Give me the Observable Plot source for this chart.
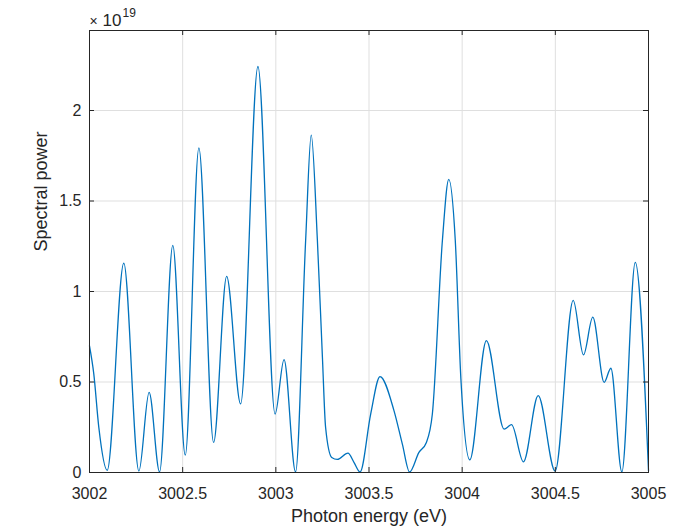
<!DOCTYPE html>
<html><head><meta charset="utf-8">
<script src="https://cdn.jsdelivr.net/npm/d3@7"></script>
<script src="https://cdn.jsdelivr.net/npm/@observablehq/plot@0.6"></script>
<style>
html,body{margin:0;padding:0;background:#fff;}
#chart{width:682px;height:527px;}
</style></head><body><div id="chart"></div>
<script>
// Photon energy (eV)
const energy = [
  3002.000, 3002.023, 3002.050, 3002.095, 3002.184, 3002.265, 3002.320, 3002.376,
  3002.447, 3002.514, 3002.587, 3002.666, 3002.736, 3002.811, 3002.904, 3002.996,
  3003.044, 3003.106, 3003.160, 3003.190, 3003.223, 3003.250, 3003.267, 3003.300,
  3003.330, 3003.387, 3003.420, 3003.452, 3003.509, 3003.559, 3003.634, 3003.679,
  3003.718, 3003.768, 3003.808, 3003.840, 3003.894, 3003.928, 3003.963, 3003.993,
  3004.041, 3004.130, 3004.225, 3004.265, 3004.329, 3004.408, 3004.499, 3004.596,
  3004.651, 3004.701, 3004.762, 3004.798, 3004.857, 3004.929, 3005.000
];
// Spectral power, in units of 1e19
const power = [
  0.700, 0.545, 0.249, 0.012, 1.157, 0.008, 0.443, 0.003,
  1.255, 0.096, 1.794, 0.166, 1.084, 0.379, 2.243, 0.323,
  0.624, 0.003, 1.283, 1.864, 1.283, 0.637, 0.250, 0.083,
  0.072, 0.107, 0.055, 0.003, 0.323, 0.530, 0.342, 0.157,
  0.003, 0.111, 0.166, 0.323, 1.283, 1.620, 1.283, 0.520,
  0.070, 0.729, 0.240, 0.264, 0.059, 0.425, 0.008, 0.951,
  0.650, 0.858, 0.498, 0.576, 0.003, 1.161, 0.010
];
const xTicks = [3002, 3002.5, 3003, 3003.5, 3004, 3004.5, 3005];
const yTicks = [0, 0.5, 1, 1.5, 2];
const yExponent = "19";
const xLabel = "Photon energy (eV)";
const yLabel = "Spectral power";

const data = energy.map((e, i) => ({e, p: power[i]}));
const font = "'Liberation Sans', Arial, Helvetica, sans-serif";
const axisColor = "#262626";
const gridColor = "#dfdfdf";
const W = 682, H = 527, mL = 89, mR = 34, mT = 30, mB = 55;
const innerW = W - mL - mR, innerH = H - mT - mB, tk = 5;

const chart = Plot.plot({
  width: W, height: H,
  marginLeft: mL, marginRight: mR, marginTop: mT, marginBottom: mB,
  style: {fontFamily: font, fontSize: "16px", color: axisColor, background: "#fff"},
  x: {domain: [3002, 3005]},
  y: {domain: [0, 2.442]},
  marks: [
    Plot.gridX(xTicks, {stroke: gridColor, strokeOpacity: 1}),
    Plot.gridY(yTicks, {stroke: gridColor, strokeOpacity: 1}),
    Plot.line(data, {x: "e", y: "p", stroke: "#0072BD", strokeWidth: 1.3, curve: "monotone-x"}),
    Plot.frame({stroke: axisColor, strokeWidth: 1}),
    Plot.tickX(xTicks, {x: d => d, insetTop: innerH - tk, stroke: axisColor}),
    Plot.tickX(xTicks, {x: d => d, insetBottom: innerH - tk, stroke: axisColor}),
    Plot.tickY(yTicks, {y: d => d, insetRight: innerW - tk, stroke: axisColor}),
    Plot.tickY(yTicks, {y: d => d, insetLeft: innerW - tk, stroke: axisColor}),
    Plot.axisX(xTicks, {anchor: "bottom", tickSize: 0, tickPadding: 15, tickFormat: d => String(d), label: null, fill: axisColor}),
    Plot.axisY(yTicks, {anchor: "left", tickSize: 0, tickPadding: 8, tickFormat: d => String(d), label: null, fill: axisColor}),
    Plot.text([xLabel], {frameAnchor: "bottom", dy: 44, fontSize: 18, fill: axisColor, lineAnchor: "middle"}),
    Plot.text([yLabel], {frameAnchor: "left", dx: -48.5, rotate: -90, fontSize: 18, fill: axisColor, lineAnchor: "middle"}),
    Plot.text(["\u00d7"], {frameAnchor: "top-left", textAnchor: "start", dx: 0, dy: -9, fontSize: 14, fill: axisColor, lineAnchor: "middle"}),
    Plot.text(["10"], {frameAnchor: "top-left", textAnchor: "start", dx: 13, dy: -10, fontSize: 17, fill: axisColor, lineAnchor: "middle"}),
    Plot.text([yExponent], {frameAnchor: "top-left", textAnchor: "start", dx: 33, dy: -17, fontSize: 12, fill: axisColor, lineAnchor: "middle"})
  ]
});
document.getElementById("chart").appendChild(chart);
</script>
</body></html>
